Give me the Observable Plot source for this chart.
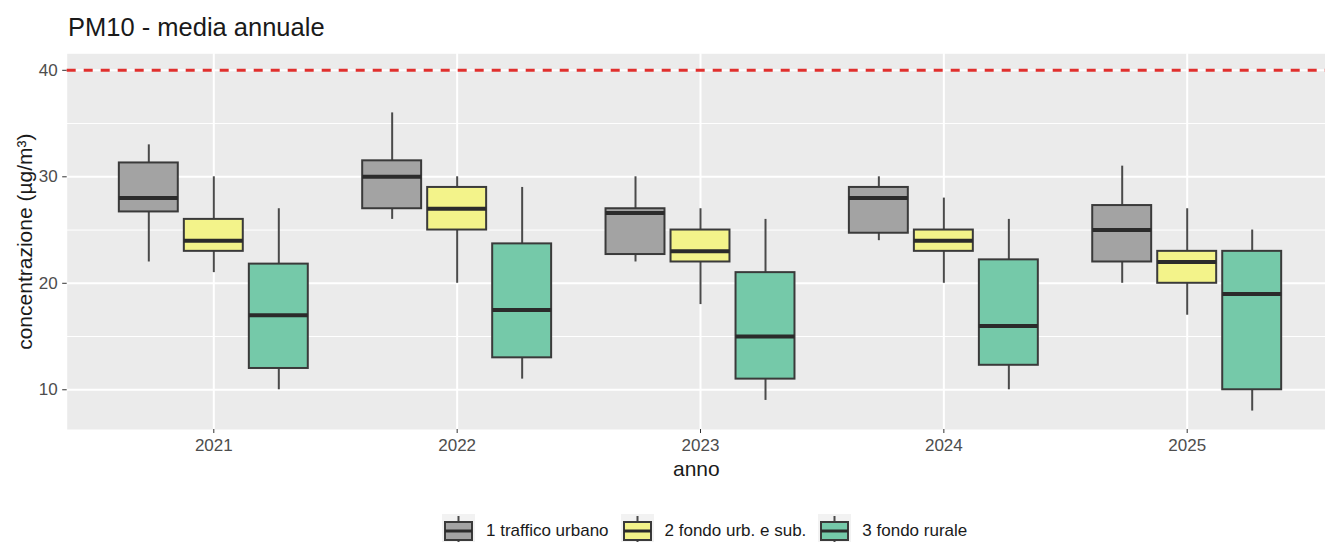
<!DOCTYPE html>
<html>
<head>
<meta charset="utf-8">
<script src="https://cdn.jsdelivr.net/npm/d3@7"></script>
<script src="https://cdn.jsdelivr.net/npm/@observablehq/plot@0.6"></script>
<style>
  html, body { margin: 0; padding: 0; background: #ffffff; }
  body { font-family: "Liberation Sans", Arial, sans-serif; width: 1325px; overflow: hidden; }
  #title { position: relative; height: 44px; }
  #title span { position: absolute; left: 68px; top: 15px; font-size: 25.5px; line-height: 1; color: #1a1a1a; white-space: nowrap; }
  #chart svg { display: block; }
  #legend { display: flex; align-items: center; margin-top: 14px; padding-left: 442px; height: 34px; }
  #legend .key { width: 33px; height: 34px; display: block; }
  #legend .lab { font-size: 17px; color: #1a1a1a; margin-left: 11px; margin-right: 12px; white-space: nowrap; }
  g[aria-label="x-axis label"] text, g[aria-label="y-axis label"] text { fill: #1a1a1a; font-size: 21px; }
</style>
</head>
<body>
<div id="title"><span>PM10 - media annuale</span></div>
<div id="chart"></div>
<div id="legend"></div>
<script>
const years = ["2021", "2022", "2023", "2024", "2025"];
const categories = ["1 traffico urbano", "2 fondo urb. e sub.", "3 fondo rurale"];
const fills = ["#a3a3a3", "#f3f38a", "#75c9a9"];
// rows: category, columns: year
const whiskerLow  = [[22, 26, 22, 24, 20], [21, 20, 18, 20, 17], [10, 11, 9, 10, 8]];
const quartile1   = [[26.7, 27, 22.7, 24.7, 22], [23, 25, 22, 23, 20], [12, 13, 11, 12.3, 10]];
const medians     = [[28, 30, 26.6, 28, 25], [24, 27, 23, 24, 22], [17, 17.5, 15, 16, 19]];
const quartile3   = [[31.3, 31.5, 27, 29, 27.3], [26, 29, 25, 25, 23], [21.8, 23.7, 21, 22.2, 23]];
const whiskerHigh = [[33, 36, 30, 30, 31], [30, 30, 27, 28, 27], [27, 29, 26, 26, 25]];
const yTicks = [10, 20, 30, 40];
const yMinor = [15, 25, 35];
const limit = [40];

const rows = [];
years.forEach((year, i) => {
  categories.forEach((cat, j) => {
    rows.push({year, cat, lo: whiskerLow[j][i], q1: quartile1[j][i], med: medians[j][i], q3: quartile3[j][i], hi: whiskerHigh[j][i]});
  });
});

// dodge layout (pixels): spacing between boxes in a year, and inset that narrows each box within the year band
const dodge = 65;
const boxInset = 92.2;

const boxMarks = categories.flatMap((cat, j) => {
  const data = rows.filter(d => d.cat === cat);
  const dx = (j - 1) * dodge;
  return [
    Plot.ruleX(data, {x: "year", y1: "lo", y2: "hi", dx, stroke: "#4a4a4a", strokeWidth: 2}),
    Plot.barY(data, {x: "year", y1: "q1", y2: "q3", dx, insetLeft: boxInset, insetRight: boxInset, fill: "cat", stroke: "#3a3a3a", strokeWidth: 2}),
    Plot.tickY(data, {x: "year", y: "med", dx, insetLeft: boxInset, insetRight: boxInset, stroke: "#2b2b2b", strokeWidth: 4})
  ];
});

const chart = Plot.plot({
  width: 1325,
  height: 456,
  marginTop: 9.3,
  marginBottom: 71,
  marginLeft: 66.7,
  marginRight: 0,
  style: {fontFamily: '"Liberation Sans", Arial, sans-serif', fontSize: "17px", color: "#4d4d4d", background: "transparent", overflow: "visible"},
  x: {domain: years, paddingInner: 0, paddingOuter: 0.0854, align: 0.6, round: false},
  y: {domain: [6.27, 41.55]},
  color: {domain: categories, range: fills},
  marks: [
    Plot.frame({fill: "#ebebeb", stroke: null}),
    Plot.ruleY(yMinor, {stroke: "#ffffff", strokeWidth: 1}),
    Plot.ruleY(yTicks, {stroke: "#ffffff", strokeWidth: 2}),
    Plot.ruleX(years, {stroke: "#ffffff", strokeWidth: 2}),
    Plot.axisY({ticks: yTicks, tickSize: 4.5, tickPadding: 5, stroke: "#333333", fill: "#4d4d4d", fontSize: 17,
      label: "concentrazione (µg/m³)", labelAnchor: "center", labelArrow: "none", labelOffset: 50}),
    Plot.axisX({tickSize: 4, tickPadding: 5, stroke: "#333333", fill: "#4d4d4d", fontSize: 17,
      label: "anno", labelAnchor: "center", labelArrow: "none", labelOffset: 46}),
    ...boxMarks,
    Plot.ruleY(limit, {stroke: "#e0302e", strokeWidth: 3, strokeDasharray: "9,8"})
  ]
});
document.getElementById("chart").appendChild(chart);

// legend
const legend = d3.select("#legend");
categories.forEach((cat, j) => {
  const svg = legend.append("svg").attr("class", "key").attr("width", 33).attr("height", 34);
  svg.append("rect").attr("width", 33).attr("height", 34).attr("fill", "#f2f2f2");
  svg.append("line").attr("x1", 16.5).attr("x2", 16.5).attr("y1", 2).attr("y2", 32).attr("stroke", "#4a4a4a").attr("stroke-width", 2);
  svg.append("rect").attr("x", 3).attr("y", 8).attr("width", 27).attr("height", 18).attr("fill", fills[j]).attr("stroke", "#3a3a3a").attr("stroke-width", 2);
  svg.append("line").attr("x1", 3).attr("x2", 30).attr("y1", 17).attr("y2", 17).attr("stroke", "#2b2b2b").attr("stroke-width", 3);
  legend.append("span").attr("class", "lab").text(cat);
});
</script>
</body>
</html>
